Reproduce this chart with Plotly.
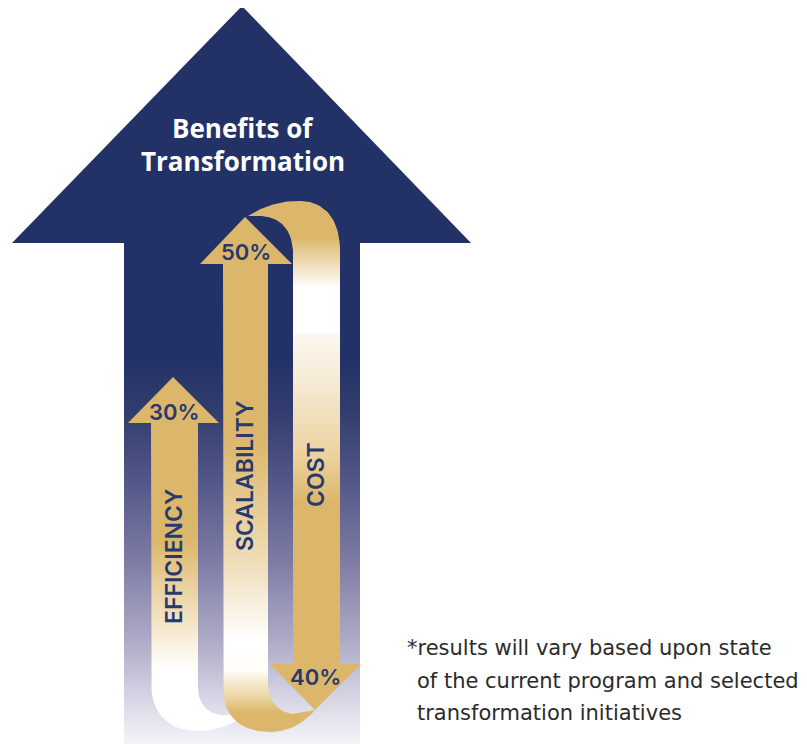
import numpy as np
import plotly.graph_objects as go

# ---- data ----
categories = ["EFFICIENCY", "SCALABILITY", "COST"]
values = [30, 50, 40]
directions = ["up", "up", "down"]
title_lines = ["Benefits of", "Transformation"]
footnote_lines = ["*results will vary based upon state",
                  "of the current program and selected",
                  "transformation initiatives"]

NAVY = "#233266"
GOLD = "#dcb76b"
TEXT_NAVY = "#263a6e"

W, H = 807, 744
OFF = 8  # page body margin


def bez(p0, p1, p2, p3, n=30):
    t = np.linspace(0, 1, n)[:, None]
    p0, p1, p2, p3 = map(np.array, (p0, p1, p2, p3))
    pts = ((1 - t) ** 3) * p0 + 3 * ((1 - t) ** 2) * t * p1 + 3 * (1 - t) * t ** 2 * p2 + t ** 3 * p3
    return [tuple(p) for p in pts]


def path(segments):
    pts = []
    for s in segments:
        if len(s) == 4:
            pts += bez(*s)
        else:
            pts.append(s[0])
    xs = [p[0] for p in pts] + [pts[0][0]]
    ys = [p[1] for p in pts] + [pts[0][1]]
    return xs, ys


def grad_shape(xs, ys, stops, y0, y1):
    scale = [[(y - y0) / (y1 - y0), c] for y, c in stops]
    return go.Scatter(x=xs, y=ys, mode="lines", fill="toself", line=dict(width=0),
                      fillgradient=dict(type="vertical", colorscale=scale, start=y0, stop=y1),
                      hoverinfo="skip", showlegend=False)


def solid_shape(xs, ys, color):
    return go.Scatter(x=xs, y=ys, mode="lines", fill="toself", line=dict(width=0),
                      fillcolor=color, hoverinfo="skip", showlegend=False)


fig = go.Figure()

# big arrow
bx = [12, 242, 471, 360, 360, 124, 124, 12]
by = [243, 6, 243, 243, 760, 760, 243, 243]
fig.add_trace(grad_shape(bx, by, [(6, NAVY), (360, NAVY), (412, "#323d6e"), (486, "#55598a"),
                                  (560, "#7d7ba4"), (641, "#aeabc7"), (700, "#d8d6e5"),
                                  (744, "#f4f4f8")], 6, 744))

# efficiency ribbon (white bottom)
ex, ey = path([
    [(151, 423)], [(151, 683)],
    ((151, 683), (151, 715), (170, 731), (198, 731)),
    ((198, 731), (218, 731), (232, 724), (245, 716)),
    [(240, 712)],
    ((240, 712), (215, 722), (198, 708), (198, 688)),
    [(198, 423)],
])
fig.add_trace(grad_shape(ex, ey, [(423, GOLD), (540, GOLD), (620, "#f3e3c3"), (670, "#ffffff"),
                                  (735, "#ffffff")], 423, 735))

# cost ribbon with top arch
cx, cy = path([
    ((248, 216), (265, 205), (285, 200), (303, 201)),
    ((303, 201), (326, 203), (339, 220), (340, 248)),
    [(340, 664)], [(293, 664)], [(293, 250)],
    ((293, 250), (291, 228), (280, 218), (262, 216)),
])
fig.add_trace(grad_shape(cx, cy, [(200, GOLD), (238, GOLD), (288, "#ffffff"), (332, "#ffffff"),
                                  (334, "#fcf8f0"), (380, "#f6ebd6"), (460, "#ecd09a"),
                                  (500, GOLD), (664, GOLD)], 200, 664))
# cost arrowhead
fig.add_trace(solid_shape([270, 361, 315, 270], [664, 664, 710, 664], GOLD))

# scalability ribbon
sx, sy = path([
    [(223, 264)], [(223, 688)],
    ((223, 688), (223, 718), (243, 732), (270, 732)),
    ((270, 732), (290, 732), (305, 722), (315, 710)),
    [(292, 714)],
    ((292, 714), (278, 712), (268, 700), (268, 685)),
    [(268, 264)],
])
fig.add_trace(grad_shape(sx, sy, [(264, GOLD), (440, GOLD), (560, "#efdcb6"), (640, "#ffffff"),
                                  (670, "#fffdf8"), (698, "#ead39f"), (712, GOLD), (732, GOLD)],
                         264, 732))
# scalability arrowhead
fig.add_trace(solid_shape([200, 245, 292, 200], [264, 217, 264, 264], GOLD))
# efficiency arrowhead
fig.add_trace(solid_shape([128, 173, 219, 128], [423, 377, 423, 423], GOLD))

# ---- text ----
ann = []
ann.append(dict(x=243, y=128, text=title_lines[0], font=dict(size=26, color="white", family="Open Sans", weight=700)))
ann.append(dict(x=243, y=161, text=title_lines[1], font=dict(size=26, color="white", family="Open Sans", weight=700)))

pct_pos = [(174, 412), (246, 252), (315, 677)]
lab_pos = [(174, 557), (245, 476), (316, 475)]
for cat, v, (px, py), (lx, ly) in zip(categories, values, pct_pos, lab_pos):
    ann.append(dict(x=px, y=py, text=f"{v}%", font=dict(size=22, color=TEXT_NAVY, family="Inter", weight=600)))
    ann.append(dict(x=lx, y=ly, text=cat, textangle=-90,
                    font=dict(size=23, color=TEXT_NAVY, family="Inter", weight=600)))

fn_pos = [(405, 648), (415, 681), (415, 713)]
for t, (fx, fy) in zip(footnote_lines, fn_pos):
    ann.append(dict(x=fx, y=fy, text=t, xanchor="left",
                    font=dict(size=21, color="#2b2b2b", family="DejaVu Sans")))

for a in ann:
    a.setdefault("xanchor", "center")
    a.update(xref="x", yref="y", yanchor="middle", showarrow=False)

fig.update_layout(
    width=W, height=H, margin=dict(l=0, r=0, t=0, b=0),
    paper_bgcolor="white", plot_bgcolor="white",
    xaxis=dict(range=[OFF, W + OFF], visible=False, fixedrange=True),
    yaxis=dict(range=[H + OFF, OFF], visible=False, fixedrange=True),
    annotations=ann, showlegend=False,
)

fig.write_html("out.html", config={"displayModeBar": False})
